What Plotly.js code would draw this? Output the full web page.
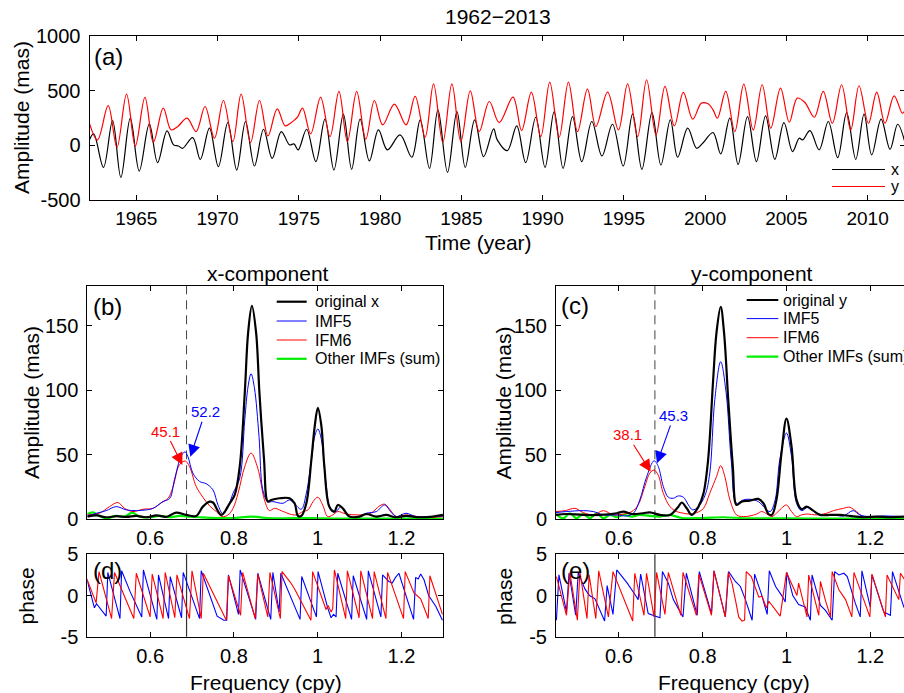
<!DOCTYPE html>
<html><head><meta charset="utf-8">
<script src="https://cdn.plot.ly/plotly-3.0.1.min.js"></script>
<style>html,body{margin:0;padding:0;overflow:hidden;background:#fff}</style>
</head><body><div id="chart" style="width:916px;height:693px"></div>
<script>
// ---------- Panel (a): polar motion time series (year, mas) ----------
const seriesX = [
[1962.00,4],[1962.37,105],[1962.98,-201],[1963.54,227],[1964.05,-293],[1964.63,248],[1965.18,-235],[1965.80,196],
[1966.31,-158],[1966.89,132],[1967.30,4],[1967.59,-6],[1967.85,-27],[1968.47,71],[1968.94,-128],[1969.50,157],
[1970.05,-195],[1970.63,208],[1971.18,-226],[1971.72,218],[1972.27,-189],[1972.83,147],[1973.36,-119],[1973.92,126],
[1974.43,4],[1974.70,13],[1974.96,-42],[1975.48,147],[1976.05,-149],[1976.61,239],[1977.16,-226],[1977.74,285],
[1978.25,-219],[1978.77,239],[1979.34,-143],[1979.90,141],[1980.45,-42],[1981.23,95],[1981.95,-109],[1982.47,233],
[1983.04,-210],[1983.56,325],[1984.15,-247],[1984.73,309],[1985.24,-201],[1985.82,233],[1986.37,-103],[1986.99,150],
[1987.21,50],[1987.83,-48],[1988.41,178],[1988.96,-158],[1989.58,257],[1990.15,-201],[1990.71,309],[1991.26,-210],
[1991.84,263],[1992.41,-149],[1993.03,218],[1993.65,-97],[1994.30,193],[1994.96,-189],[1995.54,288],[1996.11,-219],
[1996.73,300],[1997.28,-180],[1997.86,233],[1998.31,-109],[1998.93,157],[1999.48,-27],[1999.85,19],[2000.49,117],
[2000.96,-79],[2001.52,248],[2002.03,-174],[2002.61,263],[2003.16,-149],[2003.72,270],[2004.29,-128],[2004.85,208],
[2005.38,-57],[2005.79,65],[2006.00,50],[2006.45,135],[2007.02,-42],[2007.58,218],[2008.16,-112],[2008.71,300],
[2009.27,-128],[2009.78,285],[2010.25,-88],[2010.83,239],[2011.38,-36],[2011.85,193],[2012.31,19]];
const seriesY = [
[1962.00,257],[1962.61,50],[1963.27,364],[1963.81,-18],[1964.40,468],[1964.94,-6],[1965.53,438],[1966.05,28],
[1966.66,340],[1967.14,141],[1967.55,172],[1968.12,248],[1968.68,126],[1969.23,355],[1969.81,65],[1970.36,410],
[1970.94,34],[1971.45,468],[1972.03,25],[1972.58,410],[1973.10,86],[1973.67,334],[1974.16,178],[1974.50,205],
[1974.76,235],[1974.94,263],[1975.23,340],[1975.73,105],[1976.34,438],[1976.92,80],[1977.47,493],[1977.99,34],
[1978.56,493],[1979.12,56],[1979.65,410],[1980.16,187],[1980.88,377],[1981.60,187],[1982.16,447],[1982.77,74],
[1983.29,563],[1983.86,25],[1984.42,563],[1984.97,34],[1985.55,499],[1986.10,126],[1986.72,401],[1987.33,208],
[1988.18,441],[1988.71,135],[1989.31,487],[1989.89,80],[1990.44,578],[1991.02,74],[1991.59,578],[1992.15,126],
[1992.76,514],[1993.28,172],[1994.00,487],[1994.67,141],[1995.23,563],[1995.85,80],[1996.40,600],[1996.98,95],
[1997.53,539],[1998.11,178],[1998.66,484],[1999.24,239],[1999.77,386],[2000.18,380],[2000.49,325],[2000.76,248],
[2001.27,493],[2001.83,126],[2002.38,560],[2002.96,141],[2003.51,554],[2004.04,157],[2004.64,523],[2005.18,212],
[2005.67,432],[2006.14,392],[2006.72,257],[2007.27,493],[2007.83,202],[2008.40,554],[2008.96,141],[2009.47,545],
[2010.05,202],[2010.56,487],[2011.07,202],[2011.63,453],[2012.14,294],[2012.31,325]];
const yearTicks = [1965,1970,1975,1980,1985,1990,1995,2000,2005,2010];
const ampTicksA = [-500,0,500,1000];
const ampTickTextA = ["-500","0","500","1000"];

// ---------- Panel (b): x-component spectra (cpy, mas) ----------
const origX = [[0.450,2.1],[0.472,3.0],[0.495,1.6],[0.520,2.4],[0.543,1.8],[0.567,2.6],[0.591,1.6],[0.615,3.0],[0.640,2.0],
[0.662,5.2],[0.686,3.4],[0.710,2.6],[0.726,9.8],[0.742,13.7],[0.750,13.0],[0.770,3.4],[0.790,12.4],[0.802,18.9],[0.814,40.9],
[0.826,97.9],[0.834,144.6],[0.843,165.3],[0.853,144.6],[0.861,97.9],[0.872,46.1],[0.881,13.7],[0.889,15.0],[0.909,16.3],
[0.933,16.3],[0.945,12.4],[0.953,2.6],[0.961,2.6],[0.973,12.4],[0.985,46.1],[0.993,72.0],[1.0005,86.3],[1.009,72.0],
[1.016,40.9],[1.028,9.8],[1.040,6.0],[1.048,11.1],[1.060,8.5],[1.076,2.1],[1.100,2.1],[1.116,4.1],[1.140,2.1],[1.164,3.4],
[1.184,1.6],[1.211,2.6],[1.243,1.6],[1.275,2.1],[1.299,3.4]];
const imf5X = [[0.450,2.6],[0.472,4.7],[0.495,6.7],[0.519,9.8],[0.543,7.3],[0.567,6.7],[0.591,7.3],[0.607,8.5],[0.631,13.7],
[0.647,16.3],[0.658,30.6],[0.674,48.7],[0.683,52.2],[0.690,48.7],[0.702,35.8],[0.718,29.3],[0.734,27.5],[0.750,22.8],
[0.762,11.1],[0.774,4.1],[0.786,9.8],[0.798,20.2],[0.814,31.9],[0.826,77.2],[0.834,103.1],[0.841,112.7],[0.849,101.8],
[0.860,64.2],[0.869,22.8],[0.881,13.7],[0.893,13.7],[0.917,12.4],[0.933,15.0],[0.945,11.9],[0.961,7.8],[0.973,20.2],
[0.985,46.1],[0.993,64.2],[1.0005,69.9],[1.009,61.7],[1.019,30.6],[1.032,6.7],[1.044,6.0],[1.056,9.8],[1.072,2.6],
[1.092,1.6],[1.116,4.7],[1.140,6.0],[1.160,11.1],[1.176,5.2],[1.188,2.1],[1.211,4.7],[1.235,2.1],[1.275,2.1],[1.299,2.6]];
const imf6X = [[0.450,3.4],[0.479,4.7],[0.503,9.8],[0.523,13.0],[0.539,8.5],[0.559,6.0],[0.583,7.8],[0.607,8.5],[0.627,13.0],
[0.643,16.3],[0.655,25.4],[0.670,42.2],[0.684,45.1],[0.694,40.9],[0.710,25.4],[0.726,17.1],[0.742,10.4],[0.758,6.0],
[0.772,2.1],[0.786,3.4],[0.798,8.5],[0.810,20.2],[0.826,40.9],[0.841,51.3],[0.857,39.6],[0.873,15.0],[0.885,6.7],
[0.897,8.5],[0.913,6.7],[0.933,4.1],[0.949,3.4],[0.965,6.0],[0.977,7.3],[0.989,13.7],[1.0005,17.1],[1.012,11.1],
[1.024,2.1],[1.036,3.4],[1.048,6.0],[1.068,4.1],[1.096,3.4],[1.124,4.1],[1.148,10.4],[1.160,11.7],[1.172,7.8],[1.188,2.1],
[1.211,3.4],[1.235,2.1],[1.275,1.6],[1.299,2.1]];
const otherX = [[0.450,4.1],[0.464,5.4],[0.479,2.6],[0.495,0.8],[0.519,2.6],[0.539,2.1],[0.557,5.2],[0.575,2.1],[0.599,1.6],
[0.622,2.6],[0.646,1.6],[0.670,2.6],[0.694,2.1],[0.718,1.6],[0.758,1.0],[0.798,1.0],[0.841,2.1],[0.881,1.0],[0.921,0.8],
[0.961,1.0],[1.0,0.8],[1.05,0.5],[1.10,0.5],[1.20,0.5],[1.30,0.5]];

// ---------- Panel (c): y-component spectra ----------
const origY = [[0.450,3.4],[0.475,4.1],[0.515,3.4],[0.555,3.4],[0.595,4.7],[0.611,6.0],[0.631,4.1],[0.658,4.7],[0.674,5.4],
[0.698,3.4],[0.722,3.4],[0.742,9.8],[0.750,13.0],[0.762,8.5],[0.774,3.4],[0.790,9.8],[0.802,20.2],[0.813,46.1],[0.825,108],
[0.833,144.6],[0.843,164.5],[0.851,144.6],[0.861,92.7],[0.872,40.9],[0.881,11.1],[0.893,13.7],[0.913,14.5],[0.933,15.8],
[0.945,12.4],[0.957,4.1],[0.965,3.4],[0.976,15.0],[0.988,51.0],[1.000,78.0],[1.012,56.5],[1.024,15.0],[1.036,7.8],
[1.048,9.8],[1.064,6.7],[1.080,3.4],[1.104,3.4],[1.128,3.4],[1.151,2.6],[1.183,1.6],[1.215,2.1],[1.247,1.6],[1.28,2.1],[1.30,2.1]];
const imf5Y = [[0.450,5.2],[0.475,6.0],[0.515,6.7],[0.539,6.0],[0.563,3.4],[0.595,3.4],[0.619,2.6],[0.635,4.7],[0.650,15.0],
[0.666,32.6],[0.684,45.3],[0.694,40.9],[0.706,25.4],[0.718,17.1],[0.730,16.3],[0.742,18.1],[0.754,17.1],[0.766,11.1],
[0.776,7.3],[0.790,9.8],[0.806,18.9],[0.817,35.8],[0.829,92.7],[0.843,122.0],[0.856,97.9],[0.868,46.1],[0.881,12.4],
[0.897,15.0],[0.913,15.5],[0.933,13.7],[0.949,8.5],[0.961,6.0],[0.973,15.0],[0.984,46.1],[1.000,66.8],[1.012,48.7],
[1.024,12.4],[1.036,6.7],[1.052,9.3],[1.072,4.7],[1.088,3.4],[1.112,3.4],[1.136,2.6],[1.159,6.7],[1.175,3.4],[1.199,2.1],
[1.231,2.6],[1.28,2.1],[1.30,2.1]];
const imf6Y = [[0.450,6.0],[0.472,6.7],[0.495,8.5],[0.515,5.2],[0.539,3.4],[0.563,6.7],[0.587,3.4],[0.611,4.1],[0.631,6.0],
[0.646,11.1],[0.662,25.4],[0.674,35.8],[0.684,38.1],[0.694,34.2],[0.706,20.2],[0.722,9.8],[0.738,6.0],[0.754,4.7],
[0.770,4.1],[0.786,5.2],[0.802,8.5],[0.817,20.2],[0.833,33.0],[0.843,41.5],[0.853,33.0],[0.865,15.0],[0.881,3.4],
[0.897,2.1],[0.913,2.6],[0.929,4.1],[0.941,6.0],[0.953,4.1],[0.965,2.1],[0.976,4.7],[0.988,8.5],[1.000,11.1],[1.012,6.0],
[1.024,2.1],[1.036,3.4],[1.048,4.1],[1.072,3.4],[1.096,4.7],[1.112,6.7],[1.136,8.5],[1.151,9.3],[1.167,6.0],[1.183,2.1],
[1.215,1.6],[1.247,2.1],[1.28,2.1],[1.30,2.1]];
const otherY = [[0.450,4.1],[0.4675,0.8],[0.483,4.7],[0.499,0.8],[0.515,4.1],[0.531,0.8],[0.547,4.7],[0.563,0.8],[0.579,3.4],
[0.595,1.6],[0.611,3.4],[0.631,2.1],[0.650,3.4],[0.674,2.6],[0.698,2.1],[0.722,3.4],[0.75,1.0],[0.80,1.0],[0.85,1.6],
[0.90,0.8],[0.95,0.8],[1.0,0.8],[1.1,0.5],[1.2,0.5],[1.3,0.5]];

// ---------- Panels (d),(e): phase (cpy, rad) ----------
const phaseRedD = [[0.449,2.0],[0.471,-0.9],[0.478,2.9],[0.508,-2.8],[0.515,2.8],[0.561,-2.8],[0.567,2.7],[0.600,-2.6],[0.605,2.6],
[0.631,-2.8],[0.636,2.8],[0.659,-2.7],[0.664,2.5],[0.694,-2.8],[0.700,3.0],[0.722,-2.8],[0.727,2.7],[0.782,-3.0],[0.787,2.4],
[0.816,-2.4],[0.821,2.8],[0.851,-2.8],[0.857,2.6],[0.881,-2.6],[0.886,2.8],[0.911,-2.8],[0.915,2.9],[0.935,1.6],[0.945,0.8],
[0.960,-0.6],[0.984,-3.0],[0.988,2.9],[1.020,-1.7],[1.025,-1.2],[1.032,-2.0],[1.036,-1.6],[1.040,3.1],[1.067,-2.8],[1.071,3.0],
[1.099,-2.7],[1.103,3.0],[1.131,-2.8],[1.135,2.9],[1.163,-2.8],[1.167,2.8],[1.205,-2.8],[1.209,2.9],[1.230,0.3],[1.246,-0.4],
[1.264,-2.8],[1.268,2.4],[1.298,-2.3]];
const phaseBlueD = [[0.449,2.0],[0.462,-0.8],[0.467,-1.5],[0.472,-1.0],[0.478,-1.4],[0.495,-2.5],[0.499,2.8],[0.528,-2.8],
[0.532,3.0],[0.552,0.5],[0.580,-2.6],[0.584,3.1],[0.616,-2.9],[0.620,2.5],[0.644,-2.8],[0.648,2.3],[0.675,-2.7],[0.679,2.8],
[0.718,-2.8],[0.722,3.0],[0.760,-2.5],[0.770,-2.8],[0.776,-3.0],[0.783,-3.0],[0.787,2.5],[0.811,-2.3],[0.815,3.1],[0.852,-2.9],
[0.857,2.7],[0.888,-2.9],[0.893,2.8],[0.908,-2.0],[0.912,2.7],[0.958,-2.9],[0.962,2.3],[0.997,-2.6],[1.001,2.9],[1.024,-1.5],
[1.032,-2.7],[1.038,-2.3],[1.044,-2.6],[1.048,2.7],[1.081,-2.9],[1.085,2.4],[1.117,-2.9],[1.121,3.0],[1.151,-2.6],[1.155,2.5],
[1.170,1.7],[1.178,1.5],[1.186,2.2],[1.194,2.7],[1.229,-2.9],[1.234,2.2],[1.240,2.0],[1.246,2.6],[1.254,1.9],[1.265,0.0],
[1.282,-1.3],[1.298,-3.0]];
const phaseRedE = [[0.451,2.3],[0.475,-2.4],[0.483,2.8],[0.501,-3.0],[0.507,2.9],[0.524,-2.8],[0.529,2.5],[0.545,-2.8],[0.552,3.0],
[0.575,-2.6],[0.586,2.9],[0.633,-3.1],[0.638,2.7],[0.660,-2.4],[0.666,2.7],[0.684,-2.6],[0.690,2.8],[0.710,-2.3],[0.718,2.8],
[0.748,-2.4],[0.753,2.8],[0.785,-2.4],[0.791,2.6],[0.821,-2.4],[0.827,3.0],[0.854,-2.6],[0.861,2.8],[0.870,1.5],[0.878,-0.5],
[0.886,-2.6],[0.894,-3.1],[0.900,-3.0],[0.904,2.9],[0.916,2.3],[0.934,-0.2],[0.942,-0.1],[0.952,-1.5],[0.958,-0.7],[0.985,-2.5],
[1.000,2.8],[1.025,0.0],[1.029,1.5],[1.049,-2.6],[1.053,2.5],[1.077,-2.4],[1.081,1.7],[1.093,-0.6],[1.105,-2.6],[1.109,2.9],
[1.125,0.7],[1.141,-0.5],[1.156,-2.6],[1.161,2.8],[1.199,-2.6],[1.204,2.6],[1.236,-2.6],[1.240,2.5],[1.268,-0.5],[1.272,2.7],
[1.300,0.5]];
const phaseBlueE = [[0.451,-3.0],[0.457,2.5],[0.475,-2.0],[0.481,2.7],[0.497,-2.4],[0.503,2.8],[0.519,0.8],[0.530,0.0],[0.543,-0.4],
[0.566,-3.1],[0.572,1.2],[0.586,-2.3],[0.595,3.1],[0.620,1.5],[0.640,0.0],[0.646,-0.5],[0.652,2.6],[0.670,-2.2],[0.698,-2.7],
[0.704,2.9],[0.718,1.5],[0.730,-0.5],[0.741,-1.5],[0.753,-2.6],[0.761,2.7],[0.787,-2.4],[0.792,2.9],[0.821,-2.2],[0.827,3.0],
[0.854,-2.6],[0.862,2.9],[0.878,1.7],[0.890,1.1],[0.902,-0.5],[0.918,-3.0],[0.924,2.6],[0.940,0.2],[0.954,-2.3],[0.959,3.0],
[0.974,1.1],[0.990,-0.1],[0.997,-0.8],[1.001,2.8],[1.015,0.0],[1.029,-1.1],[1.045,-1.4],[1.057,-3.0],[1.061,2.5],[1.081,-1.2],
[1.093,-1.8],[1.109,-3.0],[1.115,2.9],[1.125,2.5],[1.137,2.7],[1.145,2.3],[1.164,-0.9],[1.176,-2.6],[1.180,3.0],[1.200,-1.4],
[1.204,2.5],[1.232,-2.0],[1.248,-2.4],[1.253,2.9],[1.280,-1.4],[1.300,-2.5]];

const freqTicks = [0.6,0.8,1,1.2];
const freqTickText = ["0.6","0.8","1","1.2"];
const ampTicksB = [0,50,100,150];
const phaseTicks = [-5,0,5];
const phaseTickText = ["-5","0","5"];
const markerFreq = [0.687, 0.686];            // dashed reference line (x, y components)
const peakLabelsX = [{t:"45.1",f:0.677,a:42.0,c:"red"},{t:"52.2",f:0.696,a:48.4,c:"blue"}];
const peakLabelsY = [{t:"38.1",f:0.676,a:36.8,c:"red"},{t:"45.3",f:0.691,a:43.3,c:"blue"}];
const legendLabelsB = ["original x","IMF5","IFM6","Other IMFs (sum)"];
const legendLabelsC = ["original y","IMF5","IFM6","Other IMFs (sum)"];
const legendColors = ["#000000","#0000ff","#ff0000","#00ee00"];
const legendWidths = [2.2,1,1,2.2];

// ---------- build ----------
const W = 916, H = 693;
const FONT = "Liberation Sans, Arial, Helvetica, sans-serif";
const px = x => x / W, py = y => 1 - y / H;
const xs = a => a.map(p => p[0]), ys = a => a.map(p => p[1]);

function tr(data, xa, ya, color, width, shape) {
  return {type:'scatter', mode:'lines', x:xs(data), y:ys(data), xaxis:xa, yaxis:ya,
    line:{color:color, width:width, shape:shape||'linear', smoothing:1}, hoverinfo:'skip', showlegend:false};
}
const traces = [
  tr(seriesX,'x','y','#000000',1.2,'spline'),
  tr(seriesY,'x','y','#ff0000',1.2,'spline'),
  tr(otherX,'x2','y2','#00ee00',2.2,'spline'),
  tr(imf6X,'x2','y2','#ff0000',1,'spline'),
  tr(imf5X,'x2','y2','#0000ff',1,'spline'),
  tr(origX,'x2','y2','#000000',2.2,'spline'),
  tr(otherY,'x3','y3','#00ee00',2.2,'spline'),
  tr(imf6Y,'x3','y3','#ff0000',1,'spline'),
  tr(imf5Y,'x3','y3','#0000ff',1,'spline'),
  tr(origY,'x3','y3','#000000',2.2,'spline'),
  tr(phaseBlueD,'x4','y4','#0000ff',1.1),
  tr(phaseRedD,'x4','y4','#ff0000',1.1),
  tr(phaseBlueE,'x5','y5','#0000ff',1.1),
  tr(phaseRedE,'x5','y5','#ff0000',1.1)
];

function axis(extra) {
  return Object.assign({showline:true, linecolor:'#000', linewidth:1, mirror:'ticks', ticks:'inside',
    ticklen:5, tickwidth:1, tickcolor:'#000', showgrid:false, zeroline:false, fixedrange:true,
    tickfont:{family:FONT, size:20, color:'#000'}, ticklabelstandoff:4}, extra);
}
const layout = {
  width:W, height:H, margin:{l:0,r:0,t:0,b:0}, paper_bgcolor:'#fff', plot_bgcolor:'#fff',
  showlegend:false, hovermode:false, font:{family:FONT, color:'#000'},
  xaxis: axis({domain:[px(89.5),px(905)], anchor:'y', range:[1962.12,2012.3], tickvals:yearTicks,
    tickfont:{family:FONT, size:19, color:'#000'}, ticklabelstandoff:1}),
  yaxis: axis({domain:[py(200),py(36)], anchor:'x', range:[-500,1000], tickvals:ampTicksA, ticktext:ampTickTextA}),
  xaxis2: axis({domain:[px(87.3),px(443.3)], anchor:'y2', range:[0.45,1.3], tickvals:freqTicks, ticktext:freqTickText, ticklabelstandoff:1}),
  yaxis2: axis({domain:[py(519.3),py(285.5)], anchor:'x2', range:[0,181], tickvals:ampTicksB}),
  xaxis3: axis({domain:[px(556),px(912.2)], anchor:'y3', range:[0.45,1.3], tickvals:freqTicks, ticktext:freqTickText, ticklabelstandoff:1}),
  yaxis3: axis({domain:[py(519.3),py(285.5)], anchor:'x3', range:[0,181], tickvals:ampTicksB}),
  xaxis4: axis({domain:[px(87.3),px(443.3)], anchor:'y4', range:[0.45,1.3], tickvals:freqTicks, ticktext:freqTickText, ticklabelstandoff:1}),
  yaxis4: axis({domain:[py(636.7),py(554.3)], anchor:'x4', range:[-5,5], tickvals:phaseTicks, ticktext:phaseTickText}),
  xaxis5: axis({domain:[px(556),px(912.2)], anchor:'y5', range:[0.45,1.3], tickvals:freqTicks, ticktext:freqTickText, ticklabelstandoff:1}),
  yaxis5: axis({domain:[py(636.7),py(554.3)], anchor:'x5', range:[-5,5], tickvals:phaseTicks, ticktext:phaseTickText}),
  shapes:[], annotations:[]
};

// reference lines
[['x2','y2',0],['x3','y3',1]].forEach(([xa,ya,i]) => layout.shapes.push({type:'line', xref:xa, yref:ya+' domain',
  x0:markerFreq[i], x1:markerFreq[i], y0:0, y1:1, line:{color:'#444', width:1, dash:'9px,6px'}, layer:'below'}));
[['x4','y4',0],['x5','y5',1]].forEach(([xa,ya,i]) => layout.shapes.push({type:'line', xref:xa, yref:ya+' domain',
  x0:markerFreq[i], x1:markerFreq[i], y0:0, y1:1, line:{color:'#333', width:1.2}, layer:'below'}));

function txt(text, X, Y, size, opts) {
  layout.annotations.push(Object.assign({text:text, xref:'paper', yref:'paper', x:px(X), y:py(Y),
    showarrow:false, font:{family:FONT, size:size, color:'#000'}, xanchor:'center', yanchor:'middle'}, opts||{}));
}
// titles & axis labels
txt("1962\u22122013", 498, 17, 21);
txt("Amplitude (mas)", 22, 118, 21, {textangle:-90});
txt("Time (year)", 478, 242, 21);
txt("x-component", 268, 273, 21);
txt("y-component", 752, 273, 21);
txt("Amplitude (mas)", 31, 403, 21, {textangle:-90});
txt("Amplitude (mas)", 502.5, 403, 21, {textangle:-90});
txt("phase", 25.5, 596, 21, {textangle:-90});
txt("phase", 504, 596, 21, {textangle:-90});
txt("Frequency (cpy)", 266, 682, 21);
txt("Frequency (cpy)", 734, 682, 21);
// panel letters
txt("(a)", 92, 57, 24, {xanchor:'left'});
txt("(b)", 91, 306.5, 24, {xanchor:'left'});
txt("(c)", 559, 306, 24, {xanchor:'left'});
txt("(d)", 90.5, 570, 24, {xanchor:'left'});
txt("(e)", 559, 570, 24, {xanchor:'left'});

// legends (drawn manually)
function legLine(X0, X1, Y, color, width) {
  layout.shapes.push({type:'line', xref:'paper', yref:'paper', x0:px(X0), x1:px(X1), y0:py(Y), y1:py(Y),
    line:{color:color, width:width}});
}
legLine(832, 885, 169.5, '#000', 1); txt("x", 889, 169.5, 16, {xanchor:'left'});
legLine(832, 885, 186.5, '#ff0000', 1); txt("y", 889, 186.5, 16, {xanchor:'left'});
const rowsB = [301.7, 321, 340, 358.8], rowsC = [300, 318.6, 337.7, 356.7];
legendLabelsB.forEach((t,i) => { legLine(276.7, 306.7, rowsB[i], legendColors[i], legendWidths[i]);
  txt(t, 312.5, rowsB[i], 16, {xanchor:'left'}); });
legendLabelsC.forEach((t,i) => { legLine(746.7, 778.3, rowsC[i], legendColors[i], legendWidths[i]);
  txt(t, 781, rowsC[i], 16, {xanchor:'left'}); });

// peak arrows
const arrowOffsets = [[-17,-34],[15,-45]];
const arrowOffsetsC = [[-23.5,-37],[17,-48]];
function peakArrow(p, xa, ya, off) {
  layout.annotations.push({text:p.t, xref:xa, yref:ya, x:p.f, y:p.a, axref:'pixel', ayref:'pixel',
    ax:off[0], ay:off[1], showarrow:true, arrowhead:2, arrowsize:2.2, arrowwidth:1.1, arrowcolor:p.c,
    font:{family:FONT, size:15, color:p.c}, standoff:0, startstandoff:0});
}
peakLabelsX.forEach((p,i) => peakArrow(p,'x2','y2',arrowOffsets[i]));
peakLabelsY.forEach((p,i) => peakArrow(p,'x3','y3',arrowOffsetsC[i]));

Plotly.newPlot('chart', traces, layout, {staticPlot:true, displayModeBar:false});
</script></body></html>
